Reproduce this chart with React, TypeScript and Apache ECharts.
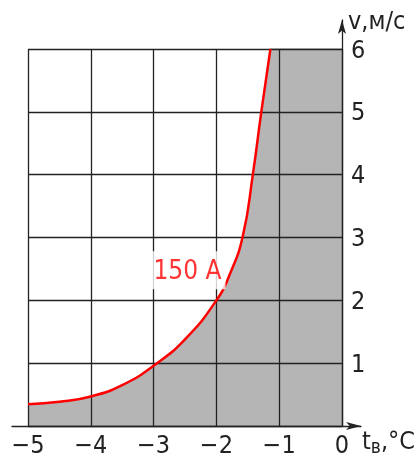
import React, { useEffect, useRef } from "react";
import * as echarts from "echarts";

// Curve "150 A": air temperature (°C) vs wind speed (m/s)
const curveT = [-5, -4.5, -4, -3.5, -3, -2.5, -2, -1.78, -1.58, -1.42, -1.285, -1.14];
const curveV = [0.345, 0.385, 0.47, 0.65, 0.96, 1.38, 2.0, 2.43, 3.02, 4.0, 5.0, 6.0];
const curveLabel = "150 A";
const labelT = -2.46;
const labelV = 2.48;

const xMin = -5;
const xMax = 0;
const yMin = 0;
const yMax = 6;
const yNameText = "v,м/с";

const FONT = "'Liberation Sans Narrow', 'DejaVu Sans Condensed', 'DejaVu Sans', sans-serif";
const INK = "#222222";
const GRAY = "#b5b5b5";
const RED = "#ff0000";

// layout (px)
const GL = 28, GT = 49, GW = 314, GH = 377;
const UNIT = GW / (xMax - xMin);
const AX_LEFT = 12, AX_RIGHT = 361, AX_TOP = 20;

export default function App() {
  const ref = useRef<HTMLDivElement>(null);
  useEffect(() => {
    if (!ref.current) return;
    const chart = echarts.init(ref.current, undefined, { renderer: "svg" });
    const pts = curveT.map((t, i) => [t, curveV[i]]);
    const lastT = curveT[curveT.length - 1];
    const gbBottom = GT + GH;
    const bMin = xMin - (GL - AX_LEFT) / UNIT;
    const bMax = xMax + (AX_RIGHT - (GL + GW)) / UNIT;
    const bYMax = yMin + (gbBottom - AX_TOP) / UNIT;
    const fmtX = (v: number) => (v < 0 ? "\u2212" + -v : String(v));
    chart.setOption({
      animation: false,
      grid: [
        { left: GL, top: GT, width: GW, height: GH },
        { left: AX_LEFT, top: AX_TOP, width: AX_RIGHT - AX_LEFT, height: gbBottom - AX_TOP },
      ],
      xAxis: [
        {
          type: "value", gridIndex: 0, min: xMin, max: xMax, interval: 1, z: 5,
          axisLine: { show: false }, axisTick: { show: false },
          splitLine: { show: true, lineStyle: { color: INK, width: 1.3 } },
          axisLabel: { formatter: fmtX, fontFamily: FONT, fontSize: 25, color: INK, margin: 6 },
        },
        {
          type: "value", gridIndex: 1, min: bMin, max: bMax, z: 6,
          axisLine: { show: true, onZero: true, symbol: ["none", "arrow"], symbolSize: [6, 15], lineStyle: { color: INK, width: 1.3 } },
          axisTick: { show: false }, axisLabel: { show: false }, splitLine: { show: false },
        },
      ],
      yAxis: [
        {
          type: "value", gridIndex: 0, min: yMin, max: yMax, interval: 1, position: "right", z: 5,
          axisLine: { show: false }, axisTick: { show: false },
          splitLine: { show: true, lineStyle: { color: INK, width: 1.3 } },
          axisLabel: { formatter: (v: number) => (v === 0 ? "" : String(v)), fontFamily: FONT, fontSize: 25, color: INK, margin: 9 },
        },
        {
          type: "value", gridIndex: 1, min: yMin, max: bYMax, z: 6,
          axisLine: { show: true, onZero: true, symbol: ["none", "arrow"], symbolSize: [6, 14], lineStyle: { color: INK, width: 1.3 } },
          axisTick: { show: false }, axisLabel: { show: false }, splitLine: { show: false },
        },
      ],
      series: [
        {
          type: "line", xAxisIndex: 0, yAxisIndex: 0, data: pts, smooth: 0.5, z: 1,
          showSymbol: false, lineStyle: { width: 0, opacity: 0 },
          areaStyle: { color: GRAY, opacity: 1 },
          markArea: {
            silent: true,
            itemStyle: { color: GRAY, opacity: 1, borderColor: GRAY, borderWidth: 1.5 },
            data: [[{ coord: [lastT, yMin] }, { coord: [xMax, yMax] }]],
          },
        },
        {
          type: "line", xAxisIndex: 0, yAxisIndex: 0, data: pts, smooth: 0.5, z: 10,
          showSymbol: false, lineStyle: { color: RED, width: 2.5 },
        },
        {
          type: "scatter", xAxisIndex: 0, yAxisIndex: 0, data: [[labelT, labelV]], symbolSize: 0, z: 11,
          label: {
            show: true, position: "inside", formatter: curveLabel, color: RED, fontFamily: FONT, fontSize: 26,
            backgroundColor: "#ffffff", padding: [6, 4], lineHeight: 26,
          },
        },
      ],
      graphic: [
        {
          type: "text", left: 348, top: 8, z: 20,
          style: { text: yNameText, fontFamily: FONT, fontSize: 25, fill: INK },
        },
        {
          type: "text", left: 362, top: 428, z: 20,
          style: {
            text: "{a|t}{b|в}{a|,°C}", fill: INK,
            rich: {
              a: { fontFamily: FONT, fontSize: 25, fill: INK },
              b: { fontFamily: FONT, fontSize: 19, fill: INK, padding: [10, 0, 0, 0] },
            },
          },
        },
      ],
    });
    return () => chart.dispose();
  }, []);
  return <div ref={ref} style={{ position: "fixed", left: 0, top: 0, width: 416, height: 459 }} />;
}
